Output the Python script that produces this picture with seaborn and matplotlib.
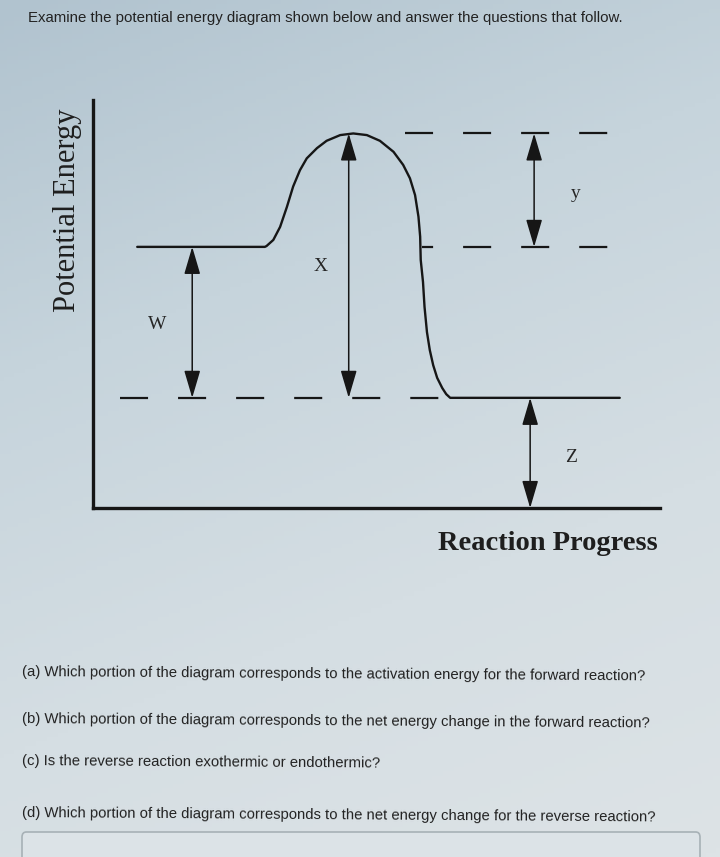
import numpy as np
import pandas as pd
import matplotlib
matplotlib.use("Agg")
import matplotlib.pyplot as plt
import seaborn as sns
from matplotlib.colors import LinearSegmentedColormap
from matplotlib.patches import FancyBboxPatch

# potential energy curve (progress 0-100, energy 0-100)
progress = [7.8, 30.3, 30.6, 31.8, 33.0, 34.2, 35.3, 36.5, 37.7, 39.5, 41.2, 43.6,
            45.9, 48.3, 50.6, 53.0, 54.7, 55.9, 56.8, 57.4, 57.7, 57.8, 58.2, 58.47,
            58.9, 59.4, 60.0, 60.7, 61.6, 62.3, 63.0, 92.9]
energy = [64.0, 64.0, 64.2, 65.7, 68.9, 73.8, 78.8, 82.8, 85.7, 88.2, 90.0, 91.4,
          91.8, 91.4, 90.0, 87.3, 84.1, 80.8, 76.7, 71.4, 66.5, 60.8, 55.4, 49.3,
          43.1, 38.7, 35.0, 31.9, 29.4, 27.9, 27.0, 27.0]

reactant_level = 64.0
peak_level = 91.8
product_level = 27.0

# dashed guides: (start, end, level)
guide_start = [4.8, 55.0, 58.0]
guide_end = [62.0, 91.5, 91.5]
guide_level = [product_level, peak_level, reactant_level]

# double arrows: label, x position, from, to, label x, label y
arrow_names = ["W", "X", "y", "Z"]
arrow_x = [17.5, 45.1, 77.8, 77.1]
arrow_lo = [product_level, product_level, reactant_level, 0.0]
arrow_hi = [reactant_level, peak_level, peak_level, product_level]
label_x = [11.3, 40.2, 85.2, 84.3]
label_y = [44.9, 59.1, 77.2, 12.5]

header = "Examine the potential energy diagram shown below and answer the questions that follow."
questions = [
    "(a) Which portion of the diagram corresponds to the activation energy for the forward reaction?",
    "(b) Which portion of the diagram corresponds to the net energy change in the forward reaction?",
    "(c) Is the reverse reaction exothermic or endothermic?",
    "(d) Which portion of the diagram corresponds to the net energy change for the reverse reaction?",
]
question_y = [672, 719, 761, 813]

W, H = 720, 857
ink = "#161616"

sns.set_theme(style="white")
plt.rcParams["font.family"] = ["Liberation Sans", "DejaVu Sans"]
plt.rcParams["lines.scale_dashes"] = False

fig = plt.figure(figsize=(W / 100, H / 100), dpi=100)

# photo-like paper background
bg = fig.add_axes([0, 0, 1, 1], zorder=-5)
paper = LinearSegmentedColormap.from_list("paper", ["#b1c3cf", "#c6d4dc", "#d5dee3", "#dde3e6"])
yy = np.linspace(0, 1, 200)[:, None]
xx = np.linspace(0, 1, 200)[None, :]
bg.imshow(0.75 * yy + 0.25 * xx, cmap=paper, aspect="auto", extent=(0, 1, 1, 0))
bg.set_axis_off()


def fx(px):
    return px / W


def fy(py):
    return 1 - py / H


ax = fig.add_axes([fx(93), fy(508), fx(660) - fx(93), fy(100) - fy(508)])
ax.set_facecolor("none")
ax.set_xlim(0, 100)
ax.set_ylim(0, 100)

curve = pd.DataFrame({"progress": progress, "energy": energy})
sns.lineplot(data=curve, x="progress", y="energy", sort=False, color=ink, lw=1.7,
             solid_joinstyle="round", ax=ax)

for s, e, lv in zip(guide_start, guide_end, guide_level):
    off = 0.0
    if lv == reactant_level:
        off = 12.2
    ax.plot([s, e], [lv, lv], color=ink, lw=1.6, linestyle=(off, (20.2, 21.6)),
            solid_capstyle="butt", dash_capstyle="butt")

for name, x, lo, hi, lx, ly in zip(arrow_names, arrow_x, arrow_lo, arrow_hi, label_x, label_y):
    ax.annotate("", xy=(x, hi), xytext=(x, lo), annotation_clip=False,
                arrowprops=dict(arrowstyle="<|-|>,head_length=0.85,head_width=0.25",
                                color=ink, lw=1.1, shrinkA=0, shrinkB=0, mutation_scale=20))
    ax.text(lx, ly, name, family="Liberation Serif", fontsize=14, color="#262626",
            ha="center", va="center")

for side in ["top", "right"]:
    ax.spines[side].set_visible(False)
for side in ["left", "bottom"]:
    ax.spines[side].set_linewidth(2.4)
    ax.spines[side].set_color(ink)
ax.set_xticks([])
ax.set_yticks([])
ax.set_xlabel("")
ax.set_ylabel("")

fig.text(fx(68), fy(210), "Potential Energy", family="Liberation Serif", fontsize=22,
         rotation=90, ha="center", va="center", color="#1e1e1e")
fig.text(fx(548), fy(544), "Reaction Progress", family="Liberation Serif", fontsize=20.5,
         fontweight="bold", ha="center", va="center", color="#1e1e1e")

fig.text(fx(28), fy(18), header, fontsize=10.8, ha="left", va="center", color="#222222")
for q, qy in zip(questions, question_y):
    fig.text(fx(22), fy(qy), q, fontsize=10.7, ha="left", va="center", color="#222222",
             rotation=-0.4, rotation_mode="anchor")

box = FancyBboxPatch((fx(22), fy(870)), fx(700) - fx(22), fy(832) - fy(870),
                     boxstyle="round,pad=0,rounding_size=0.006", transform=fig.transFigure,
                     facecolor="#dce3e7", edgecolor="#a7b1b6", lw=1.2, zorder=3)
fig.patches.append(box)

fig.savefig("out.png", dpi=100)
